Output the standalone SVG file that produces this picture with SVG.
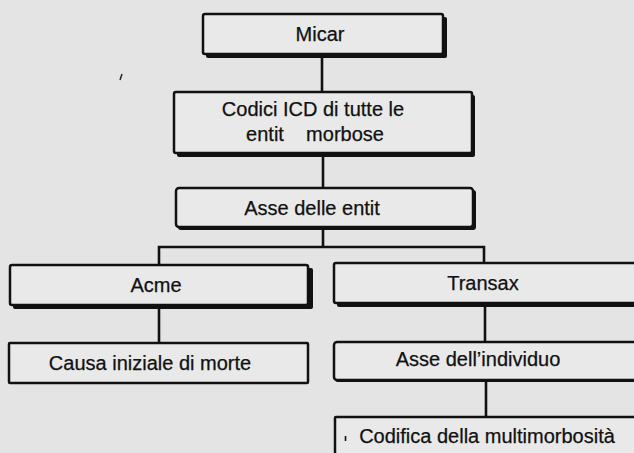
<svg xmlns="http://www.w3.org/2000/svg" width="634" height="453" viewBox="0 0 634 453">
<defs>
<style>
.bg{fill:#e4e4e4}
.box{fill:#e9e9e9;stroke:#111;stroke-width:2.5}
.sh{fill:#111}
.t{font-family:"Liberation Sans",Arial,sans-serif;font-size:20px;fill:#111;text-anchor:middle;stroke:#111;stroke-width:0.25}
.c{fill:none;stroke:#111;stroke-width:2.6}
</style>
</defs>
<rect class="bg" x="0" y="0" width="634" height="453"/>
<g id="connectors">
<path class="c" d="M322,56 V92"/>
<path class="c" d="M323,155 V188"/>
<path class="c" d="M323,229 V247"/>
<path class="c" d="M159,265 V247 H484 V263"/>
<path class="c" d="M159,307 V343"/>
<path class="c" d="M485,305 V342"/>
<path class="c" d="M486,380 V417"/>
</g>
<g id="micar">
<rect class="sh" x="206" y="17" width="241" height="41" rx="2"/>
<rect class="box" x="203" y="14" width="240" height="40" rx="2"/>
<text class="t" x="320" y="41">Micar</text>
</g>
<g id="codici">
<rect class="sh" x="177" y="95" width="298" height="62" rx="2"/>
<rect class="box" x="174" y="92" width="298" height="61" rx="2"/>
<text class="t" x="313" y="116">Codici ICD di tutte le</text>
<text class="t" x="315" y="141" xml:space="preserve">entit    morbose</text>
</g>
<g id="asse-entita">
<rect class="sh" x="178" y="190" width="298" height="40" rx="3"/>
<rect class="box" x="176" y="188" width="297" height="39" rx="3"/>
<text class="t" x="312" y="215">Asse delle entit</text>
</g>
<g id="acme">
<rect class="sh" x="13" y="268" width="300" height="41" rx="2"/>
<rect class="box" x="10" y="265" width="298" height="40" rx="2"/>
<text class="t" x="156" y="292">Acme</text>
</g>
<g id="transax">
<rect class="sh" x="337" y="266" width="310" height="41" rx="2"/>
<rect class="box" x="334" y="263" width="310" height="40" rx="2"/>
<text class="t" x="483" y="290">Transax</text>
</g>
<g id="causa">
<rect class="box" x="9" y="343" width="299" height="40" rx="1"/>
<text class="t" x="150" y="370">Causa iniziale di morte</text>
</g>
<g id="asse-individuo">
<rect class="sh" x="335" y="344" width="310" height="38" rx="3"/>
<rect class="box" x="334" y="342" width="310" height="38" rx="3"/>
<text class="t" x="478" y="366">Asse dell’individuo</text>
</g>
<g id="codifica">
<rect class="box" x="335" y="417" width="310" height="50" rx="1"/>
<path d="M345.5,436 V441" stroke="#111" stroke-width="1.6"/>
<text class="t" x="487" y="443">Codifica della multimorbosità</text>
</g>
<path d="M122,74 L120,80" stroke="#222" stroke-width="1.5"/>
</svg>
